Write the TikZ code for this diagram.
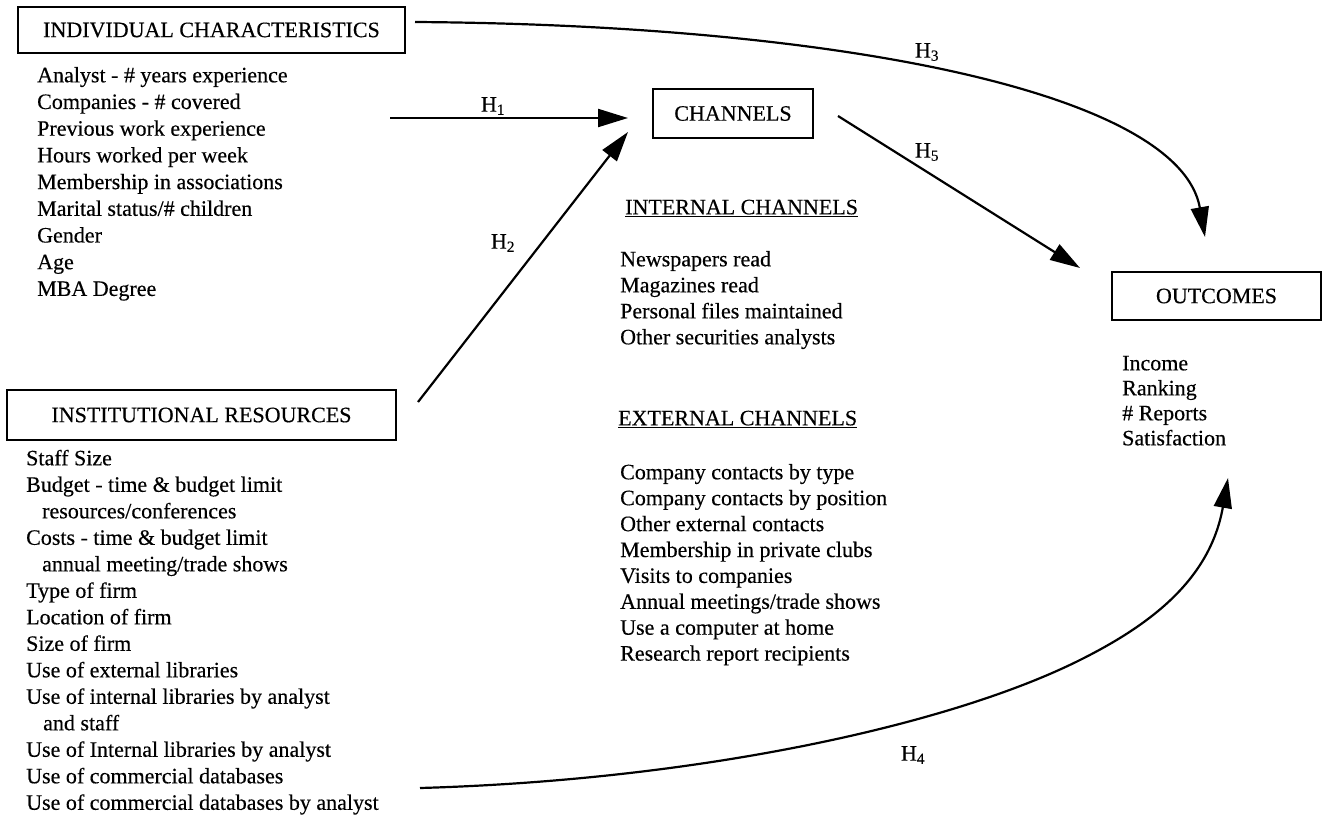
\documentclass[tikz,border=0pt]{standalone}
\usepackage{fontspec}
\setmainfont{Liberation Serif}[UprightFeatures={FakeBold=0.35}]
\usetikzlibrary{arrows.meta}
\newcommand\dgfont{\fontsize{22}{26}\selectfont}
\begin{document}
\begin{tikzpicture}[x=1pt,y=-1pt,
  box/.style={draw, line width=1.6pt, inner sep=0pt, font=\dgfont},
  item/.style={anchor=mid west, inner sep=0pt, font=\dgfont},
  hyp/.style={font=\dgfont, inner sep=0pt},
  arr/.style={line width=2.2pt, -{Triangle[length=30pt,width=18pt]}},
]
\useasboundingbox (0,0) rectangle (1323,819);

% boxes
\node[box, minimum width=387pt, minimum height=46pt] (ic) at (211.5,30) {INDIVIDUAL CHARACTERISTICS};
\node[box, minimum width=389pt, minimum height=50pt] (ir) at (201.5,415) {INSTITUTIONAL RESOURCES};
\node[box, minimum width=160pt, minimum height=49pt] (ch) at (733,113.5) {CHANNELS};
\node[box, minimum width=209pt, minimum height=48pt] (out) at (1216.5,296) {OUTCOMES};

% individual characteristics list
\foreach \t [count=\i] in {Analyst - \# years experience, Companies - \# covered,
  Previous work experience, Hours worked per week, Membership in associations,
  Marital status/\# children, Gender, Age, MBA Degree}
  \node[item] (ici\i) at (37,{80+26.7*(\i-1)}) {\t};

% institutional resources list
\foreach \t [count=\i] in {Staff Size, Budget - time \& budget limit,
  \hspace*{16pt}resources/conferences, Costs - time \& budget limit,
  \hspace*{16pt}annual meeting/trade shows, Type of firm, Location of firm,
  Size of firm, Use of external libraries, Use of internal libraries by analyst,
  \hspace*{17pt}and staff, Use of Internal libraries by analyst,
  Use of commercial databases, Use of commercial databases by analyst}
  \node[item] (iri\i) at (26,{463+26.5*(\i-1)}) {\t};

% channels
\node[item] (inth) at (625,212) {\underline{INTERNAL CHANNELS}};
\foreach \t [count=\i] in {Newspapers read, Magazines read,
  Personal files maintained, Other securities analysts}
  \node[item] (inti\i) at (620,{264+26*(\i-1)}) {\t};

\node[item] (exth) at (618,423) {\underline{EXTERNAL CHANNELS}};
\foreach \t [count=\i] in {Company contacts by type, Company contacts by position,
  Other external contacts, Membership in private clubs, Visits to companies,
  Annual meetings/trade shows, Use a computer at home, Research report recipients}
  \node[item] (exti\i) at (620,{477+25.9*(\i-1)}) {\t};

% outcomes
\foreach \t [count=\i] in {Income, Ranking, \# Reports, Satisfaction}
  \node[item] (outi\i) at (1122,{368+25*(\i-1)}) {\t};

% connector end points
\coordinate (h1s) at (390,118);  \coordinate (h1e) at (628,118);
\coordinate (h2s) at (418,402);  \coordinate (h2e) at (628,132);
\coordinate (h3s) at (415,22);   \coordinate (h3e) at (1205,237);
\coordinate (h4s) at (420,788);  \coordinate (h4m) at (1080,660);
\coordinate (h4e) at (1228,478);
\coordinate (h5s) at (838,116);  \coordinate (h5e) at (1080,268);

% connectors
\draw[arr] (h1s) -- (h1e);
\draw[arr] (h2s) -- (h2e);
\draw[arr] (h5s) -- (h5e);
\draw[arr] (h3s) .. controls (850,25) and (1180,95) .. (h3e);
\draw[arr] (h4s) .. controls (700,780) and (950,725) .. (h4m)
                 .. controls (1150,625) and (1210,580) .. (h4e);

% hypothesis labels
\node[hyp] (l1) at (493,106) {H\textsubscript{1}};
\node[hyp] (l2) at (503,243) {H\textsubscript{2}};
\node[hyp] (l3) at (927,52) {H\textsubscript{3}};
\node[hyp] (l4) at (913,755) {H\textsubscript{4}};
\node[hyp] (l5) at (927,152) {H\textsubscript{5}};
\end{tikzpicture}
\end{document}
